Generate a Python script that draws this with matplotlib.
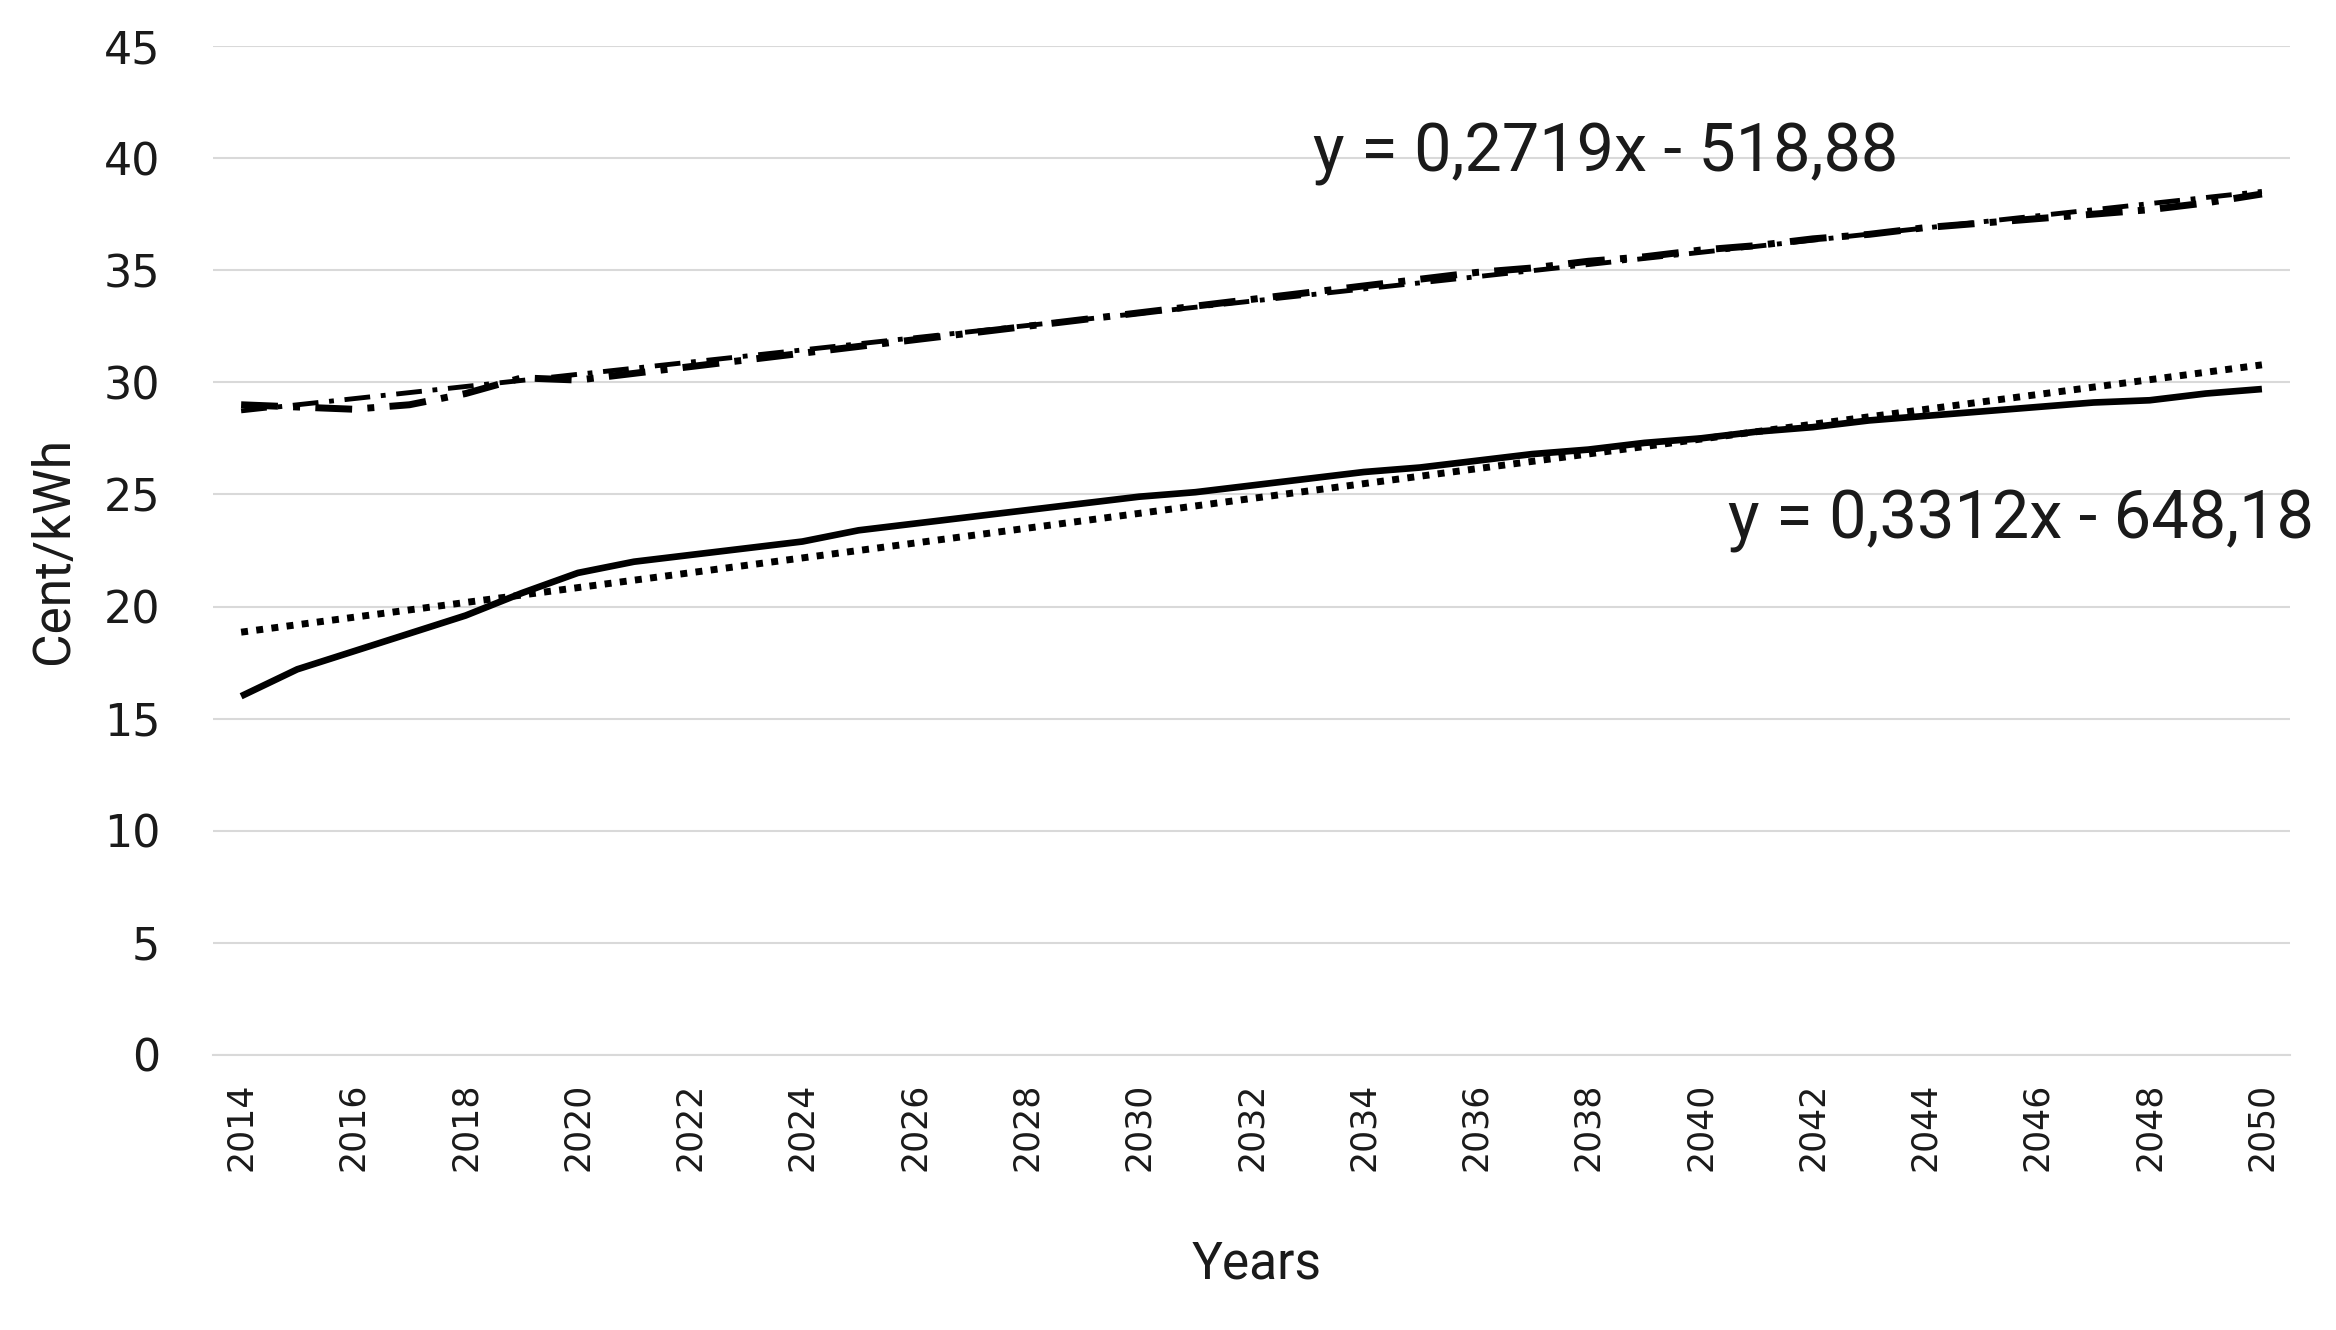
import matplotlib
matplotlib.use("Agg")
import matplotlib.pyplot as plt
import numpy as np

years = list(range(2014, 2051))
lower_series = [16.0, 17.2, 18.0, 18.8, 19.6, 20.6, 21.5, 22.0, 22.3, 22.6,
                22.9, 23.4, 23.7, 24.0, 24.3, 24.6, 24.9, 25.1, 25.4, 25.7,
                26.0, 26.2, 26.5, 26.8, 27.0, 27.3, 27.5, 27.8, 28.0, 28.3,
                28.5, 28.7, 28.9, 29.1, 29.2, 29.5, 29.7]
upper_series = [29.0, 28.9, 28.8, 29.0, 29.5, 30.2, 30.1, 30.4, 30.7, 31.0,
                31.3, 31.6, 31.9, 32.2, 32.5, 32.8, 33.1, 33.4, 33.7, 34.0,
                34.3, 34.6, 34.9, 35.1, 35.4, 35.6, 35.9, 36.1, 36.4, 36.6,
                36.9, 37.1, 37.3, 37.5, 37.7, 38.0, 38.4]
upper_trend = (0.2719, -518.88)
lower_trend = (0.3312, -648.18)
upper_eq = "y = 0,2719x - 518,88"
lower_eq = "y = 0,3312x - 648,18"
y_ticks = list(range(0, 46, 5))
x_ticks = list(range(2014, 2051, 2))

fig = plt.figure(figsize=(23.36, 13.30), dpi=100)
ax = fig.add_axes([0.0912, 0.2068, 0.8891, 0.7586])

yrs = np.array(years, dtype=float)
dashdot = (0, (5.3, 2.2, 1.0, 2.2))
ax.plot(yrs, lower_series, color="black", lw=4.8, solid_capstyle="butt",
        solid_joinstyle="round", zorder=3)
ax.plot(yrs, lower_trend[0] * yrs + lower_trend[1], color="black", lw=5,
        linestyle=(0, (1, 1.2)), zorder=3)
ax.plot(yrs, upper_series, color="black", lw=5, linestyle=dashdot, zorder=3)
ax.plot(yrs, upper_trend[0] * yrs + upper_trend[1], color="black", lw=3.5,
        linestyle=dashdot, zorder=3)

ax.set_xlim(2013.5, 2050.5)
ax.set_ylim(0, 45)
ax.set_yticks(y_ticks)
ax.set_xticks(x_ticks)
ax.set_xticklabels([str(t) for t in x_ticks], rotation=90, fontsize=25)
ax.set_yticklabels([str(t) for t in y_ticks], fontsize=32)
ax.tick_params(axis="both", length=0, colors="#1a1a1a")
ax.tick_params(axis="y", pad=38)
ax.tick_params(axis="x", pad=20)
ax.grid(axis="y", color="#d9d9d9", lw=1.5)
ax.set_axisbelow(True)
for s in ["top", "right", "left"]:
    ax.spines[s].set_visible(False)
ax.spines["bottom"].set_color("#d9d9d9")
ax.spines["bottom"].set_linewidth(1.5)

narrow = ["Roboto", "DejaVu Sans"]
ax.set_ylabel("Cent/kWh", fontsize=37, family=narrow, labelpad=18, color="#1a1a1a")
fig.text(0.5378, 0.0496, "Years", ha="center", va="center", fontsize=37,
         family=narrow, color="#1a1a1a")

ax.text(2038.3, 40.2, upper_eq, ha="center", va="center", fontsize=48,
        family=narrow, color="#1a1a1a")
ax.text(2045.7, 23.8, lower_eq, ha="center", va="center", fontsize=48,
        family=narrow, color="#1a1a1a")

fig.savefig("out.png", dpi=100, facecolor="white")
